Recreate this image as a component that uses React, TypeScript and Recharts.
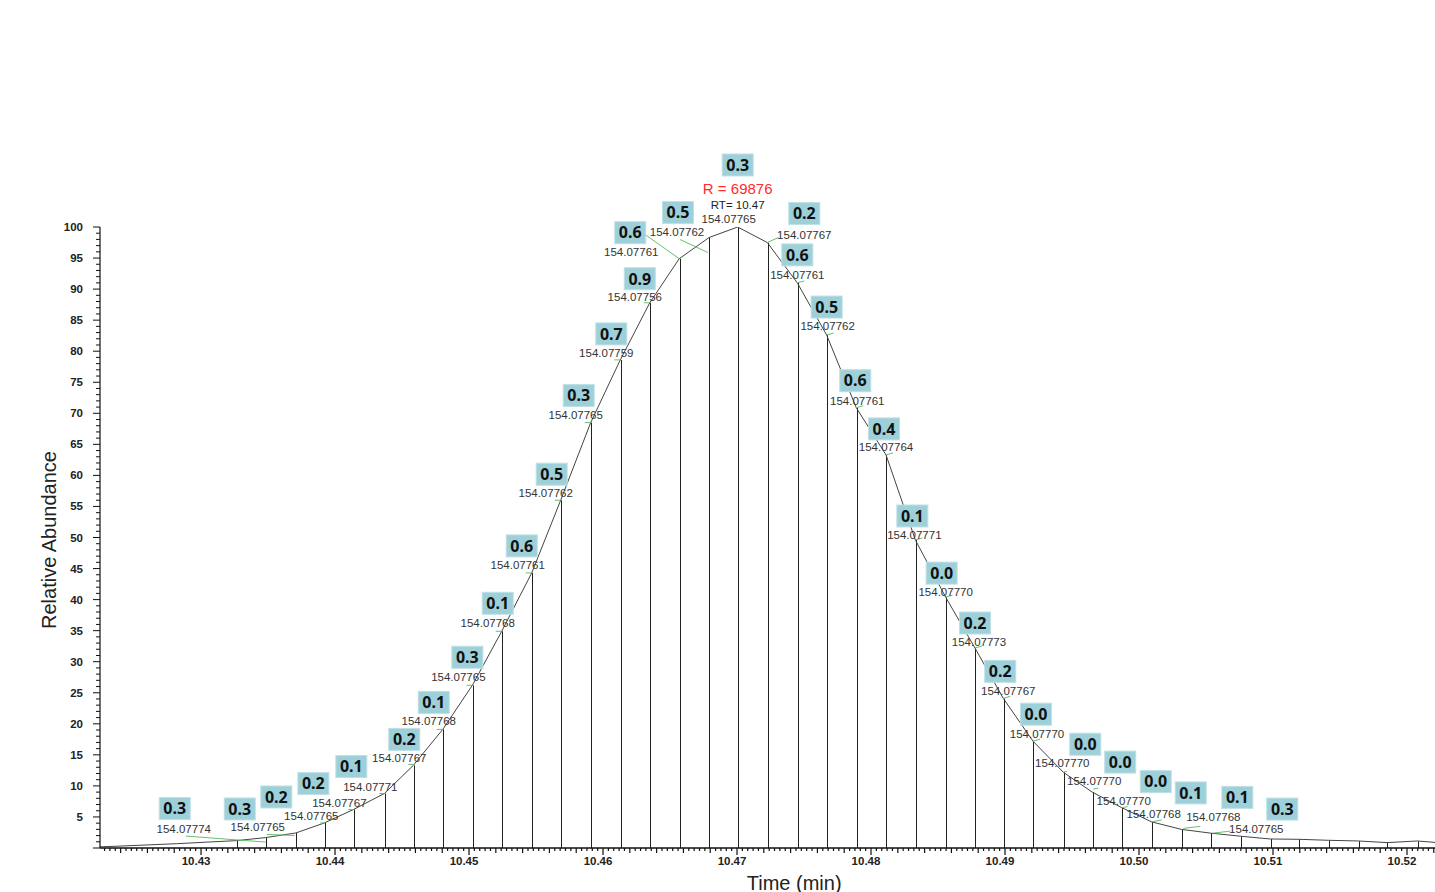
import React from 'react';
import { ComposedChart, Line, Bar, Scatter, XAxis, YAxis, Label } from 'recharts';

// ---------------- data ----------------
// scan retention times (min) that carry a centroid stick
const scanTimes = [
  10.43266, 10.43483, 10.43707, 10.4392, 10.44137, 10.44368, 10.44584, 10.44804, 10.45025, 10.45244,
  10.45468, 10.45684, 10.45908, 10.46129, 10.46349, 10.46569, 10.46791, 10.47005, 10.47226, 10.4745,
  10.47669, 10.4789, 10.48112, 10.48331, 10.48557, 10.48776, 10.48987, 10.49209, 10.49435, 10.49651,
  10.49871, 10.50095, 10.50316, 10.50532, 10.50756, 10.5098, 10.51194, 10.51416, 10.51637, 10.51851,
  10.52077,
];
// relative abundance (%) of each scan
const scanAbundance = [
  1.19, 1.68, 2.42, 4.03, 6.19, 8.77, 13.3, 19.1, 26.2, 34.9,
  44.3, 56.0, 68.5, 78.6, 87.8, 94.9, 98.3, 100, 97.5, 91.0,
  82.6, 70.9, 63.3, 49.6, 40.4, 32.2, 24.1, 17.2, 12.2, 9.0,
  6.5, 4.2, 3.0, 2.4, 1.9, 1.45, 1.4, 1.24, 1.13, 0.87,
  1.13,
];
// profile-only points (no stick) before and after the sticks
const leadTimes = [10.42166, 10.42386, 10.42606, 10.42826, 10.43046];
const leadAbundance = [0.12, 0.3, 0.5, 0.7, 0.95];
const trailTimes = [10.52298];
const trailAbundance = [0.75];

// annotated scans: index into scanTimes, mass error box value, measured m/z
const labelScanIndex = [
  1, 2, 3, 4, 5, 6, 7, 8, 9, 10, 11, 12, 13, 14, 15, 16, 17,
  18, 19, 20, 21, 22, 23, 24, 25, 26, 27, 28, 29, 30, 31, 32, 33,
];
const labelDeltas = [
  '0.3', '0.3', '0.2', '0.2', '0.1', '0.2', '0.1', '0.3', '0.1', '0.6', '0.5', '0.3', '0.7', '0.9', '0.6', '0.5', '0.3',
  '0.2', '0.6', '0.5', '0.6', '0.4', '0.1', '0.0', '0.2', '0.2', '0.0', '0.0', '0.0', '0.0', '0.1', '0.1', '0.3',
];
const labelMasses = [
  '154.07774', '154.07765', '154.07765', '154.07767', '154.07771', '154.07767', '154.07768', '154.07765',
  '154.07768', '154.07761', '154.07762', '154.07765', '154.07759', '154.07756', '154.07761', '154.07762',
  '154.07765',
  '154.07767', '154.07761', '154.07762', '154.07761', '154.07764', '154.07771', '154.07770', '154.07773',
  '154.07767', '154.07770', '154.07770', '154.07770', '154.07770', '154.07768', '154.07768', '154.07765',
];
const apexScanIndex = 17;
const apexResolution = 'R = 69876';
const apexRT = 'RT= 10.47';

// axes
const xMajorTicks = [10.43, 10.44, 10.45, 10.46, 10.47, 10.48, 10.49, 10.5, 10.51, 10.52];
const xMajorLabels = ['10.43', '10.44', '10.45', '10.46', '10.47', '10.48', '10.49', '10.50', '10.51', '10.52'];
const yMajorTicks = [5, 10, 15, 20, 25, 30, 35, 40, 45, 50, 55, 60, 65, 70, 75, 80, 85, 90, 95, 100];
const yMajorLabels = ['5', '10', '15', '20', '25', '30', '35', '40', '45', '50', '55', '60', '65', '70', '75', '80', '85', '90', '95', '100'];
const X_MIN = 10.42246;
const X_MAX = 10.52209;

// ---------------- label layout (pixel offsets from the annotated point) ----------------
const massOffsets: number[][] = [
  [-82, -9], [-38, -6], [-13, -7], [-14, -7], [-14, -7], [-14, -7], [-14, -8], [-14, -8], [-14, -8], [-14, -8],
  [-15, -7], [-15, -8], [-14, -7], [-15, -6], [-48, -7], [-32, -6], [-9, -8],
  [37, -8], [0, -8], [1, -9], [1, -7], [0, -8], [-1, -5], [0, -5], [4, -6], [5, -7], [4, -7],
  [-1, -9], [2, -11], [2, -7], [2, -8], [32, -12], [46, -4],
];
const boxOffsets: number[][] = [
  [-91, -29], [-56, -24], [-48, -26], [-40, -26], [-33, -27], [-9, -26], [-9, -27], [-5, -28], [-4, -28], [-10, -27],
  [-9, -26], [-12, -27], [-9, -26], [-10, -24], [-49, -26], [-31, -25], [0, -62],
  [37, -29], [0, -28], [0, -28], [-1, -27], [-2, -26], [-3, -24], [-4, -24], [0, -25], [-3, -27], [3, -27],
  [22, -28], [28, -30], [34, -26], [39, -29], [56, -32], [72, -24],
];
const leaderOffsets: number[][] = [
  [-80, -1.5, 0, 4.5], [-29, 1.5, -1, 2.5], [-4, 0, 1, 0], [-5, 0, 0, 0], [-5, 0, 0, 0], [-5, -1, 0, -1],
  [-6, 0, 0, 0], [-6, 0, 0, 0], [-6, 0, 0, 0], [-6, 0, 0, 0], [-6, 0, 0, 0], [-6, 0, 0, 0], [-6, 0, 0, 0],
  [-6, 0, 0, 0], [-34, -24, 0, 0], [-29, 2, -1, 15], [0, 0, 0, 0],
  [0, 0, 11, -5], [0, 0, 7, -2], [0, 0, 7, -2], [0, 0, 7, -2], [0, 0, 7, -2], [0, 0, 7, -2], [0, 0, 7, -2],
  [0, 0, 7, -2], [0, 0, 7, -2], [0, 0, 7, -2], [0, 0, 4, -1], [1, -3, 6, -4], [0, 0, 6, -1], [0, 0, 10, -2],
  [2, -1, 19, -3], [3, 0, 20, -2],
];

// ---------------- derived tables ----------------
const stickData = scanTimes.map((t, i) => ({ t, v: scanAbundance[i] }));
const profileData = [
  ...leadTimes.map((t, i) => ({ t, v: leadAbundance[i] })),
  ...stickData,
  ...trailTimes.map((t, i) => ({ t, v: trailAbundance[i] })),
];
const labelData = labelScanIndex.map((si, li) => ({
  t: scanTimes[si],
  v: scanAbundance[si],
  li,
  si,
  delta: labelDeltas[li],
  mass: labelMasses[li],
}));

const xTicks: number[] = [];
for (let u = Math.ceil((X_MIN * 10000) / 4) * 4; u <= X_MAX * 10000; u += 4) xTicks.push(u / 10000);
const yTicks: number[] = [];
for (let v = 0; v <= 100; v += 1) yTicks.push(v);

const FONT = '"Liberation Sans", Arial, Helvetica, sans-serif';
const BOX_FONT = '"Noto Sans", "Open Sans", sans-serif';

// ---------------- renderers ----------------
const XTick = (props: any) => {
  const { x, y, payload } = props;
  const u = Math.round(payload.value * 10000);
  const major = u % 100 === 0;
  const medium = u % 20 === 0;
  const len = major ? 7 : medium ? 5 : 3;
  const mi = xMajorTicks.findIndex((m) => Math.abs(m - payload.value) < 1e-6);
  return (
    <g>
      <line x1={x} x2={x} y1={y} y2={y + len} stroke="#111" strokeWidth={1.2} />
      {major && mi >= 0 && (
        <text x={x - 5} y={y + 17} textAnchor="middle" fontSize={11.5} fontWeight="bold" fontFamily={FONT} fill="#222">
          {xMajorLabels[mi]}
        </text>
      )}
    </g>
  );
};

const YTick = (props: any) => {
  const { x, y, payload } = props;
  const v = payload.value;
  const mi = yMajorTicks.indexOf(v);
  const major = v % 5 === 0;
  return (
    <g>
      <line x1={x - (major ? 7 : 4)} x2={x} y1={y} y2={y} stroke="#111" strokeWidth={1} />
      {mi >= 0 && (
        <text x={x - 17} y={y} dy="0.35em" textAnchor="end" fontSize={11.5} fontWeight="bold" fontFamily={FONT} fill="#222">
          {yMajorLabels[mi]}
        </text>
      )}
    </g>
  );
};

const Stick = (props: any) => {
  const { x, y, width, height } = props;
  if (x == null || y == null) return <g />;
  const cx = Math.round(x + width / 2) + 0.5;
  return <line x1={cx} x2={cx} y1={y} y2={y + height} stroke="#222" strokeWidth={1} />;
};

const LabelMark = (props: any) => {
  const { cx, cy, payload } = props;
  if (cx == null || cy == null) return <g />;
  const i = payload.li;
  const [mdx, mdy] = massOffsets[i];
  const [bdx, bdy] = boxOffsets[i];
  const [l1x, l1y, l2x, l2y] = leaderOffsets[i];
  const hasLeader = l1x !== l2x || l1y !== l2y;
  const isApex = payload.si === apexScanIndex;
  return (
    <g>
      {hasLeader && (
        <line x1={cx + l1x} y1={cy + l1y} x2={cx + l2x} y2={cy + l2y} stroke="#66c266" strokeWidth={1} />
      )}
      <rect x={cx + bdx - 15.5} y={cy + bdy - 11} width={31} height={22} fill="#9dd0d9" stroke="#bfe0e5" strokeWidth={1} />
      <text x={cx + bdx} y={cy + bdy} dy="0.36em" textAnchor="middle" fontSize={16} fontWeight="bold" fontFamily={BOX_FONT} fill="#111">
        {payload.delta}
      </text>
      {isApex && (
        <text x={cx} y={cy - 38} dy="0.35em" textAnchor="middle" fontSize={15} fontFamily={FONT} fill="#ff2b2b">
          {apexResolution}
        </text>
      )}
      {isApex && (
        <text x={cx} y={cy - 22} dy="0.35em" textAnchor="middle" fontSize={11.5} fontFamily={FONT} fill="#222">
          {apexRT}
        </text>
      )}
      <text x={cx + mdx} y={cy + mdy} dy="0.35em" textAnchor="middle" fontSize={11.5} fontFamily={FONT} fill="#333">
        {payload.mass}
      </text>
    </g>
  );
};

const XTitle = (p: any) => {
  const vb = p.viewBox || { x: 100, y: 848, width: 1335, height: 44 };
  return (
    <text x={vb.x + vb.width * 0.52} y={vb.y + 41.5} textAnchor="middle" fontSize={20} fontFamily={FONT} fill="#222">
      Time (min)
    </text>
  );
};

const YTitle = (p: any) => {
  const vb = p.viewBox || { x: 0, y: 227, width: 100, height: 621 };
  return (
    <text
      transform={`translate(${vb.x + 55.5},${vb.y + vb.height / 2 + 2.5}) rotate(-90)`}
      textAnchor="middle"
      fontSize={20}
      fontFamily={FONT}
      fill="#222"
    >
      Relative Abundance
    </text>
  );
};

export default function App() {
  return (
    <div style={{ position: 'absolute', left: 0, top: 0, width: 1435, height: 892, background: '#fff' }}>
      <ComposedChart width={1435} height={892} data={stickData} margin={{ top: 227, right: 0, bottom: 0, left: 0 }}>
        <XAxis
          xAxisId="main"
          type="number"
          dataKey="t"
          domain={[X_MIN, X_MAX]}
          allowDataOverflow
          ticks={xTicks}
          interval={0}
          tick={XTick}
          tickLine={false}
          tickSize={0}
          tickMargin={0}
          height={44}
          axisLine={{ stroke: '#111', strokeWidth: 1.5 }}
        >
          <Label content={XTitle} />
        </XAxis>
        <XAxis xAxisId="lab" orientation="top" type="number" dataKey="t" domain={[X_MIN, X_MAX]} height={0} hide />
        <YAxis
          yAxisId="main"
          type="number"
          dataKey="v"
          domain={[0, 100]}
          allowDataOverflow
          ticks={yTicks}
          interval={0}
          tick={YTick}
          tickLine={false}
          tickSize={0}
          tickMargin={0}
          width={100}
          axisLine={{ stroke: '#111', strokeWidth: 1.2 }}
        >
          <Label content={YTitle} />
        </YAxis>
        <YAxis yAxisId="lab" orientation="right" type="number" dataKey="v" domain={[0, 100]} width={0} hide />
        <Bar xAxisId="main" yAxisId="main" dataKey="v" barSize={1} shape={Stick} isAnimationActive={false} />
        <Line
          xAxisId="main"
          yAxisId="main"
          data={profileData}
          dataKey="v"
          type="linear"
          stroke="#444"
          strokeWidth={1}
          dot={false}
          activeDot={false}
          isAnimationActive={false}
        />
        <Scatter xAxisId="lab" yAxisId="lab" data={labelData} dataKey="v" shape={LabelMark} isAnimationActive={false} />
      </ComposedChart>
    </div>
  );
}
